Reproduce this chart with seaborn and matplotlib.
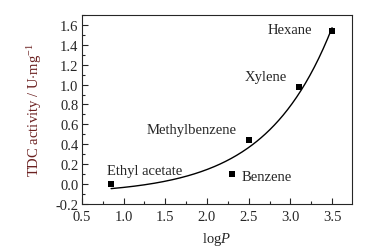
import numpy as np
import pandas as pd
import matplotlib
matplotlib.use('Agg')
import matplotlib.pyplot as plt
import seaborn as sns
from matplotlib import ticker

# datos
solventes = ['Ethyl acetate', 'Benzene', 'Methylbenzene', 'Xylene', 'Hexane']
logp = [0.85, 2.30, 2.50, 3.10, 3.50]
actividad = [0.00, 0.10, 0.44, 0.98, 1.54]

df = pd.DataFrame({'solvente': solventes, 'logP': logp, 'act': actividad})

sns.set_style('ticks')
plt.rcParams['font.family'] = ['Liberation Serif', 'DejaVu Serif']
plt.rcParams['mathtext.fontset'] = 'custom'
plt.rcParams['mathtext.rm'] = 'Liberation Serif'
plt.rcParams['mathtext.it'] = 'Liberation Serif:italic'
plt.rcParams['axes.unicode_minus'] = False

# ajuste exponencial y = y0 + A*exp(x/t), busqueda simple en t
x = np.array(logp)
yv = np.array(actividad)
mejor = None
for t in np.linspace(0.2, 3.0, 600):
    M = np.column_stack([np.ones_like(x), np.exp(x / t)])
    coef, res, _, _ = np.linalg.lstsq(M, yv, rcond=None)
    err = np.sum((M @ coef - yv) ** 2)
    if mejor is None or err < mejor[0]:
        mejor = (err, t, coef)
_, t, coef = mejor
xf = np.linspace(min(logp), max(logp), 200)
yf = coef[0] + coef[1] * np.exp(xf / t)

fig = plt.figure(figsize=(3.79, 2.53), dpi=100)
ax = fig.add_axes([0.216, 0.19, 0.713, 0.747])

ax.plot(xf, yf, color='black', lw=1.0)
sns.scatterplot(data=df, x='logP', y='act', marker='s', color='black', s=22,
                edgecolor='black', linewidth=0, ax=ax, zorder=3)

# etiquetas de cada punto
pos = {'Ethyl acetate': (0.80, 0.14, 'left'),
       'Benzene': (2.42, 0.08, 'left'),
       'Methylbenzene': (2.36, 0.55, 'right'),
       'Xylene': (2.96, 1.08, 'right'),
       'Hexane': (3.26, 1.55, 'right')}
for s in solventes:
    px, py, ha = pos[s]
    ax.text(px, py, s, ha=ha, va='center', fontsize=10.5)

ax.set_xlim(0.5, 3.74)
ax.set_ylim(-0.2, 1.7)
ax.xaxis.set_major_locator(ticker.MultipleLocator(0.5))
ax.xaxis.set_minor_locator(ticker.MultipleLocator(0.25))
ax.yaxis.set_major_locator(ticker.MultipleLocator(0.2))
ax.yaxis.set_minor_locator(ticker.MultipleLocator(0.1))
ax.xaxis.set_major_formatter(ticker.FormatStrFormatter('%.1f'))
ax.yaxis.set_major_formatter(ticker.FormatStrFormatter('%.1f'))
ax.tick_params(which='both', direction='in', labelsize=10.5, width=0.8)
ax.tick_params(axis='x', pad=4.5)
ax.tick_params(axis='y', pad=2.5)
ax.tick_params(which='major', length=4)
ax.tick_params(which='minor', length=2)
for sp in ax.spines.values():
    sp.set_linewidth(0.8)
    sp.set_visible(True)

ax.set_xlabel(r'log$\it{P}$', fontsize=10.5, labelpad=5)
ax.set_ylabel(r'TDC activity / U$\cdot$mg$^{-1}$', fontsize=10.5, color='#6b2020', labelpad=8)

fig.savefig('out.png', dpi=100)
